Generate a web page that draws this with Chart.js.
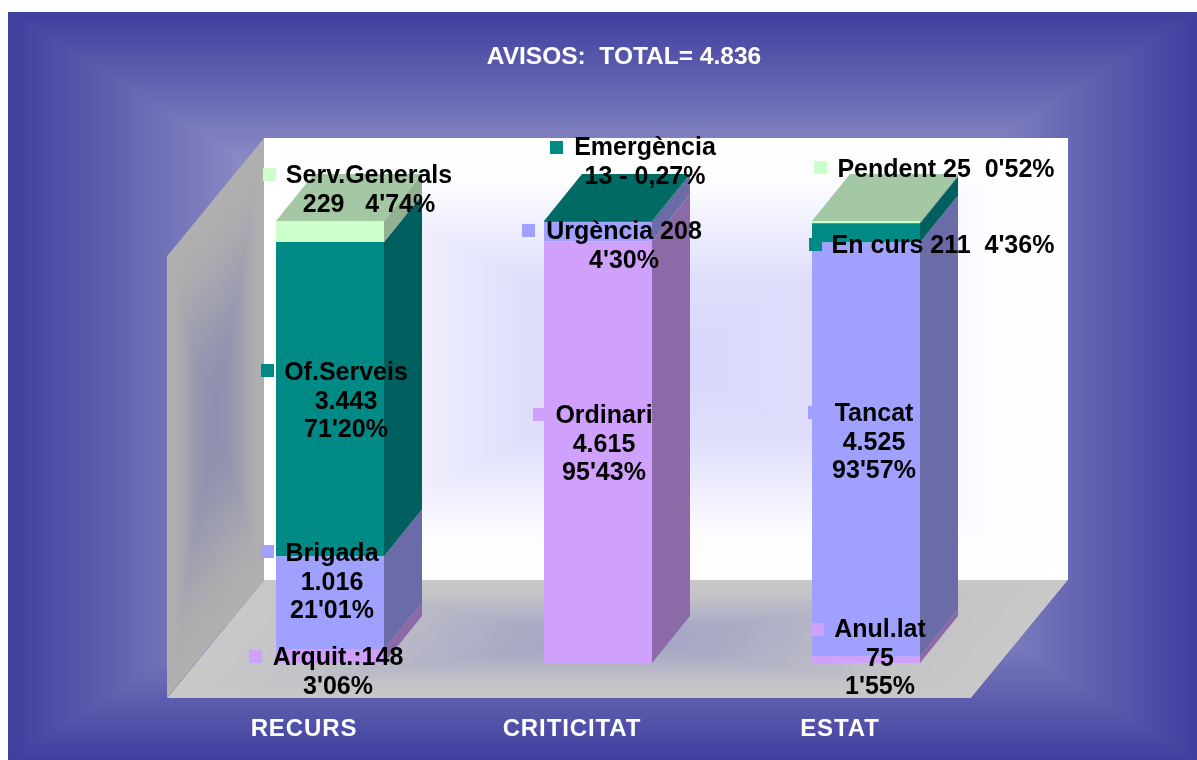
<!DOCTYPE html>
<html>
<head>
<meta charset="utf-8">
<title>Avisos</title>
<script src="https://cdn.jsdelivr.net/npm/chart.js@4/dist/chart.umd.min.js"></script>
<style>
  html, body { margin: 0; padding: 0; background: #fff; overflow: hidden; }
  canvas { display: block; filter: blur(0.45px); }
</style>
</head>
<body>
<canvas id="chart1" width="1197" height="760"></canvas>
<script>
// values
var categories = ['RECURS', 'CRITICITAT', 'ESTAT'];
var lilaValues = [148, 4615, 75];
var blauValues = [1016, 208, 4525];
var verdValues = [3443, 13, 211];
var clarValues = [229, 0, 25];
var totalAvisos = 4836;
var chartTitle = 'AVISOS:  TOTAL= 4.836';

var labelTexts = [
  ['Serv.Generals', "229   4'74%"],
  ['Of.Serveis', '3.443', "71'20%"],
  ['Brigada', '1.016', "21'01%"],
  ['Arquit.:148', "3'06%"],
  ['Emergència', '13 - 0,27%'],
  ['Urgència 208', "4'30%"],
  ['Ordinari', '4.615', "95'43%"],
  ["Pendent 25  0'52%"],
  ["En curs 211  4'36%"],
  ['Tancat', '4.525', "93'57%"],
  ['Anul.lat', '75', "1'55%"]
];

// where each hand placed label sits: colour, marker x/y, text centre x, first line y
var labelPlaces = [
  ['#ccffcc', 263, 168, 369, 176],
  ['#008a86', 261, 364, 346, 373],
  ['#a0a0ff', 261, 545, 332, 554],
  ['#cfa0fc', 249, 650, 338, 658],
  ['#008a86', 550, 141, 645, 148],
  ['#a0a0ff', 522, 224, 624, 232],
  ['#cfa0fc', 533, 408, 604, 416],
  ['#ccffcc', 814, 161, 946, 170],
  ['#008a86', 809, 238, 943, 246],
  ['#a0a0ff', 808, 406, 874, 414],
  ['#cfa0fc', 811, 623, 880, 630]
];

var sideColors = ['#8c6aa8', '#6b6ba8', '#006060', '#93b093'];
var topColors = ['#a57fca', '#8080cc', '#006b64', '#a3c8a3'];

var depthX = 38, depthY = -47;     // depth of a bar
var wallX = 97, wallY = -118;      // depth of the floor

// small picture of a box gradient, edge (t=0) to centre (t=1)
function boxTexture(stops) {
  var n = 256, c = document.createElement('canvas');
  c.width = n; c.height = n;
  var g = c.getContext('2d'), img = g.createImageData(n, n);
  for (var y = 0; y < n; y++) {
    for (var x = 0; x < n; x++) {
      var fx = (x + 0.5) / n, fy = (y + 0.5) / n;
      var t = 2 * Math.min(fx, 1 - fx, fy, 1 - fy);
      var k = 0;
      while (k < stops.length - 2 && t > stops[k + 1][0]) k++;
      var a = stops[k], b = stops[k + 1], f = Math.min(1, Math.max(0, (t - a[0]) / (b[0] - a[0])));
      var p = (y * n + x) * 4;
      for (var j = 0; j < 3; j++) img.data[p + j] = a[1][j] + (b[1][j] - a[1][j]) * f;
      img.data[p + 3] = 255;
    }
  }
  g.putImageData(img, 0, 0);
  return c;
}

function boxGradient(ctx, o, u, v, tex) {
  ctx.save();
  ctx.beginPath();
  ctx.moveTo(o[0], o[1]);
  ctx.lineTo(o[0] + u[0], o[1] + u[1]);
  ctx.lineTo(o[0] + u[0] + v[0], o[1] + u[1] + v[1]);
  ctx.lineTo(o[0] + v[0], o[1] + v[1]);
  ctx.closePath();
  ctx.clip();
  ctx.transform(u[0], u[1], v[0], v[1], o[0], o[1]);
  ctx.drawImage(tex, 0, 0, 1, 1);
  ctx.restore();
}

var pageTex = boxTexture([[0, [63, 63, 159]], [1, [255, 255, 255]]]);
var backTex = boxTexture([[0, [255, 255, 255]], [0.2, [253, 253, 255]], [0.65, [222, 222, 252]], [1, [214, 214, 250]]]);
var leftTex = boxTexture([[0, [176, 176, 176]], [0.2, [174, 174, 176]], [0.7, [148, 148, 176]], [1, [142, 142, 176]]]);
var floorTex = boxTexture([[0, [200, 200, 200]], [0.25, [196, 196, 200]], [0.75, [170, 170, 198]], [1, [164, 164, 198]]]);

function poly(ctx, pts, color) {
  ctx.fillStyle = color;
  ctx.beginPath();
  pts.forEach(function (p, i) {
    if (i == 0) ctx.moveTo(p[0], p[1]); else ctx.lineTo(p[0], p[1]);
  });
  ctx.closePath();
  ctx.fill();
}

var scenePlugin = {
  id: 'scene',
  beforeDraw: function (chart) {
    boxGradient(chart.ctx, [8, 12], [1189, 0], [0, 748], pageTex);
    chart.ctx.letterSpacing = '0.9px';   // the axis names are spaced out a bit
  },
  beforeDatasetsDraw: function (chart) {
    var ctx = chart.ctx, a = chart.chartArea;
    ctx.letterSpacing = '0px';
    var left = a.left - 29, right = a.right - 29, front = a.bottom + 35, h = a.bottom - a.top;
    boxGradient(ctx, [left + wallX, front + wallY - h], [right - left, 0], [0, h], backTex);
    boxGradient(ctx, [left, front - h], [wallX, wallY], [0, h], leftTex);
    boxGradient(ctx, [left, front], [right - left, 0], [wallX, wallY], floorTex);
  },
  afterDatasetsDraw: function (chart) {
    var ctx = chart.ctx;
    chart.data.datasets.forEach(function (ds, d) {
      chart.getDatasetMeta(d).data.forEach(function (bar, i) {
        if (!ds.data[i]) return;
        var r = bar.x + bar.width / 2, l = bar.x - bar.width / 2;
        poly(ctx, [[r, bar.y], [r + depthX, bar.y + depthY], [r + depthX, bar.base + depthY], [r, bar.base]], sideColors[d]);
        var above = 0;
        for (var k = d + 1; k < chart.data.datasets.length; k++) above += chart.data.datasets[k].data[i];
        if (above == 0) {
          poly(ctx, [[l, bar.y], [l + depthX, bar.y + depthY], [r + depthX, bar.y + depthY], [r, bar.y]], topColors[d]);
        }
      });
    });
    // labels go over the bars
    ctx.save();
    ctx.textAlign = 'center';
    ctx.textBaseline = 'middle';
    ctx.font = 'bold 25px "Liberation Sans"';
    labelTexts.forEach(function (lines, i) {
      var p = labelPlaces[i];
      ctx.fillStyle = p[0];
      ctx.fillRect(p[1], p[2], 13, 13);
      ctx.fillStyle = '#000';
      lines.forEach(function (t, n) { ctx.fillText(t, p[3], p[4] + n * 28.7); });
    });
    ctx.fillStyle = '#fff';
    ctx.font = 'bold 24.5px "Liberation Sans"';
    ctx.fillText(chartTitle, 624, 57);
    ctx.restore();
  }
};

var ctx1 = document.getElementById('chart1').getContext('2d');
var myChart = new Chart(ctx1, {
  type: 'bar',
  data: {
    labels: categories,
    datasets: [
      { label: 'Arquit. / Ordinari / Anul.lat', data: lilaValues, backgroundColor: '#cfa0fc' },
      { label: 'Brigada / Urgència / Tancat', data: blauValues, backgroundColor: '#a0a0ff' },
      { label: 'Of.Serveis / Emergència / En curs', data: verdValues, backgroundColor: '#008a86' },
      { label: 'Serv.Generals / Pendent', data: clarValues, backgroundColor: '#ccffcc' }
    ]
  },
  options: {
    responsive: false,
    animation: false,
    layout: { padding: { left: 196, right: 197, top: 221, bottom: 0 } },
    plugins: { legend: { display: false }, tooltip: { enabled: false } },
    datasets: { bar: { barPercentage: 1, categoryPercentage: 108 / 268, borderWidth: 0 } },
    scales: {
      x: {
        stacked: true,
        grid: { display: false },
        border: { display: false },
        ticks: {
          color: '#fff',
          font: { family: 'Liberation Sans', size: 24, weight: 'bold' },
          padding: 44,
          labelOffset: -26,
          maxRotation: 0,
          minRotation: 0
        },
        afterFit: function (scale) { scale.height = 97; }
      },
      y: { stacked: true, display: false, min: 0, max: totalAvisos }
    }
  },
  plugins: [scenePlugin]
});
</script>
</body>
</html>
